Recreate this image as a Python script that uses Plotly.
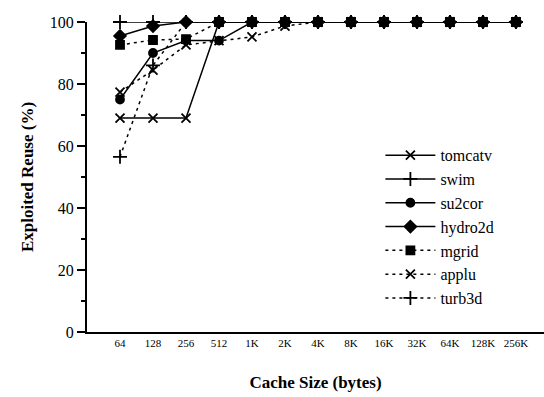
import plotly.graph_objects as go

categories = ["64", "128", "256", "512", "1K", "2K", "4K", "8K", "16K", "32K", "64K", "128K", "256K"]
tomcatv = [69, 69, 69, 100, 100, 100, 100, 100, 100, 100, 100, 100, 100]
swim = [100, 100, 100, 100, 100, 100, 100, 100, 100, 100, 100, 100, 100]
su2cor = [75, 90, 94, 94, 100, 100, 100, 100, 100, 100, 100, 100, 100]
hydro2d = [95.5, 98.7, 100, 100, 100, 100, 100, 100, 100, 100, 100, 100, 100]
mgrid = [92.6, 94.2, 94.5, 100, 100, 100, 100, 100, 100, 100, 100, 100, 100]
applu = [77.4, 84.5, 92.6, 94, 95.2, 98.7, 100, 100, 100, 100, 100, 100, 100]
turb3d = [56.5, 86, 100, 100, 100, 100, 100, 100, 100, 100, 100, 100, 100]

series = [
    ("tomcatv", tomcatv, "solid", "x-thin", 9),
    ("swim", swim, "solid", "cross-thin", 10),
    ("su2cor", su2cor, "solid", "circle", 8),
    ("hydro2d", hydro2d, "solid", "diamond", 9),
    ("mgrid", mgrid, "3px,4px", "square", 8),
    ("applu", applu, "3px,4px", "x-thin", 9),
    ("turb3d", turb3d, "3px,4px", "cross-thin", 10),
]

FONT = "'Liberation Serif', 'Times New Roman', 'DejaVu Serif', serif"

fig = go.Figure()
for name, vals, dash, sym, size in series:
    fig.add_trace(go.Scatter(
        x=list(range(len(categories))), y=vals, name=name, mode="lines+markers",
        line=dict(color="black", width=1.5, dash=dash),
        marker=dict(symbol=sym, size=size, color="black",
                    line=dict(color="black", width=1.8)),
        cliponaxis=False,
    ))

fig.update_layout(
    width=544, height=397,
    margin=dict(l=87, r=0, t=22, b=65),
    paper_bgcolor="white", plot_bgcolor="white",
    font=dict(family=FONT, color="black"),
    showlegend=True,
    legend=dict(x=0.642, y=0.625, xanchor="left", yanchor="top",
                bgcolor="rgba(0,0,0,0)", font=dict(family=FONT, size=16),
                tracegroupgap=0, itemwidth=50),
    xaxis=dict(
        tickmode="array", tickvals=list(range(len(categories))), ticktext=categories,
        range=[-1, 12.85], showgrid=False, zeroline=False,
        showline=True, linecolor="black", linewidth=2,
        ticks="", tickfont=dict(family=FONT, size=11),
        title=dict(text="<b>Cache Size (bytes)</b>", font=dict(family=FONT, size=17), standoff=28),
    ),
    yaxis=dict(
        range=[0, 100], tickvals=[0, 20, 40, 60, 80, 100],
        showgrid=False, zeroline=False,
        showline=True, linecolor="black", linewidth=2,
        ticks="outside", ticklen=8, tickwidth=1.5, tickcolor="black",
        minor=dict(ticks="outside", ticklen=4, tickvals=[10, 30, 50, 70, 90], tickcolor="black", tickwidth=1.5),
        tickfont=dict(family=FONT, size=16),
        title=dict(text="<b>Exploited Reuse (%)</b>", font=dict(family=FONT, size=17), standoff=12),
    ),
)

fig.write_html("out.html")
